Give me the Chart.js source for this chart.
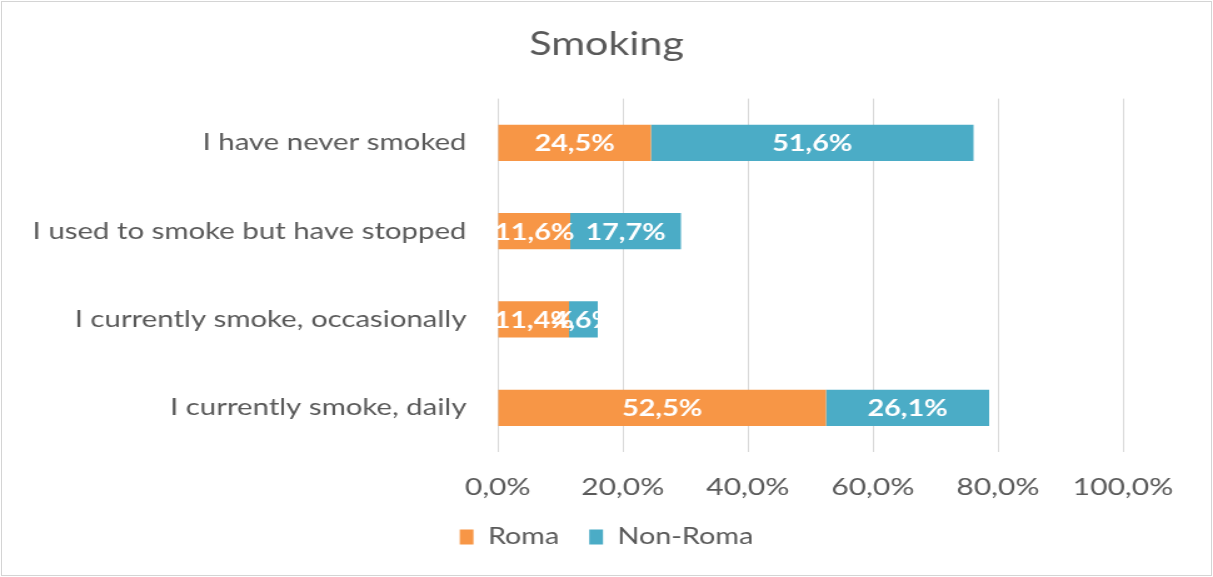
<!DOCTYPE html>
<html>
<head>
<meta charset="utf-8">
<title>Smoking</title>
<script src="https://cdn.jsdelivr.net/npm/chart.js@4/dist/chart.umd.min.js"></script>
<style>
  html, body { margin: 0; padding: 0; background: #fff; }
  #frame {
    position: absolute; left: 1px; top: 1px;
    width: 1209px; height: 573px;
    border: 1px solid #d4d4d4;
  }
  #chart { position: absolute; left: 0; top: 0; }
</style>
</head>
<body>
<div id="frame"></div>
<!-- drawn at 970 wide, then stretched to the page width like the original -->
<canvas id="chart" width="970" height="577" style="width:1213px;height:577px"></canvas>
<script>
const CATEGORIES = [
  "I have never smoked",
  "I used to smoke but have stopped",
  "I currently smoke, occasionally",
  "I currently smoke, daily"
];
const ROMA = [24.5, 11.6, 11.4, 52.5];
const NON_ROMA = [51.6, 17.7, 4.6, 26.1];
const X_TICKS = [0, 20, 40, 60, 80, 100];

const FONT = "Lato, 'Open Sans', sans-serif";
const GREY = "#595959";

function pct(v) {
  return v.toFixed(1).replace(".", ",") + "%";
}

// white value labels in the middle of every bar segment
const barLabels = {
  id: "barLabels",
  afterDatasetsDraw(chart) {
    const ctx = chart.ctx;
    ctx.save();
    ctx.font = "bold 23px " + FONT;
    ctx.fillStyle = "#fff";
    ctx.textAlign = "center";
    ctx.textBaseline = "middle";
    chart.data.datasets.forEach((ds, i) => {
      const meta = chart.getDatasetMeta(i);
      meta.data.forEach((bar, j) => {
        const p = bar.getCenterPoint();
        ctx.fillText(pct(ds.data[j]), p.x, p.y + 1);
      });
    });
    ctx.restore();
  }
};

new Chart(document.getElementById("chart"), {
  type: "bar",
  data: {
    labels: CATEGORIES,
    datasets: [
      { label: "Roma", data: ROMA, backgroundColor: "#F79646" },
      { label: "Non-Roma", data: NON_ROMA, backgroundColor: "#4BACC6" }
    ]
  },
  options: {
    indexAxis: "y",
    responsive: false,
    animation: false,
    layout: { padding: { top: 25, left: 0, right: 0, bottom: 18.6 } },
    datasets: { bar: { categoryPercentage: 1, barPercentage: 0.41 } },
    scales: {
      x: {
        stacked: true,
        min: 0,
        max: 100,
        afterBuildTicks(axis) { axis.ticks = X_TICKS.map(v => ({ value: v })); },
        afterFit(axis) { axis.height = 49.4; },
        grid: { color: "#d9d9d9", drawTicks: false },
        border: { display: false },
        ticks: {
          padding: 20.6,
          color: GREY,
          font: { family: FONT, size: 24 },
          callback: v => pct(v)
        }
      },
      y: {
        stacked: true,
        afterFit(axis) { axis.width = 398; },
        grid: { display: false, drawTicks: false },
        border: { display: false },
        ticks: {
          padding: 25,
          color: GREY,
          font: { family: FONT, size: 23.5 }
        }
      },
      // empty strip on the right so the plot ends where the original does
      side: {
        type: "category",
        position: "right",
        afterFit(axis) { axis.width = 72; },
        grid: { display: false, drawTicks: false },
        border: { display: false },
        ticks: { display: false }
      }
    },
    plugins: {
      title: {
        display: true,
        text: "Smoking",
        color: GREY,
        font: { family: FONT, size: 33, weight: "normal" },
        padding: { top: 0, bottom: 34 }
      },
      legend: {
        position: "bottom",
        labels: {
          color: GREY,
          font: { family: FONT, size: 23 },
          boxWidth: 11,
          boxHeight: 15,
          padding: 24
        }
      },
      tooltip: { enabled: false }
    }
  },
  plugins: [barLabels]
});
</script>
</body>
</html>
